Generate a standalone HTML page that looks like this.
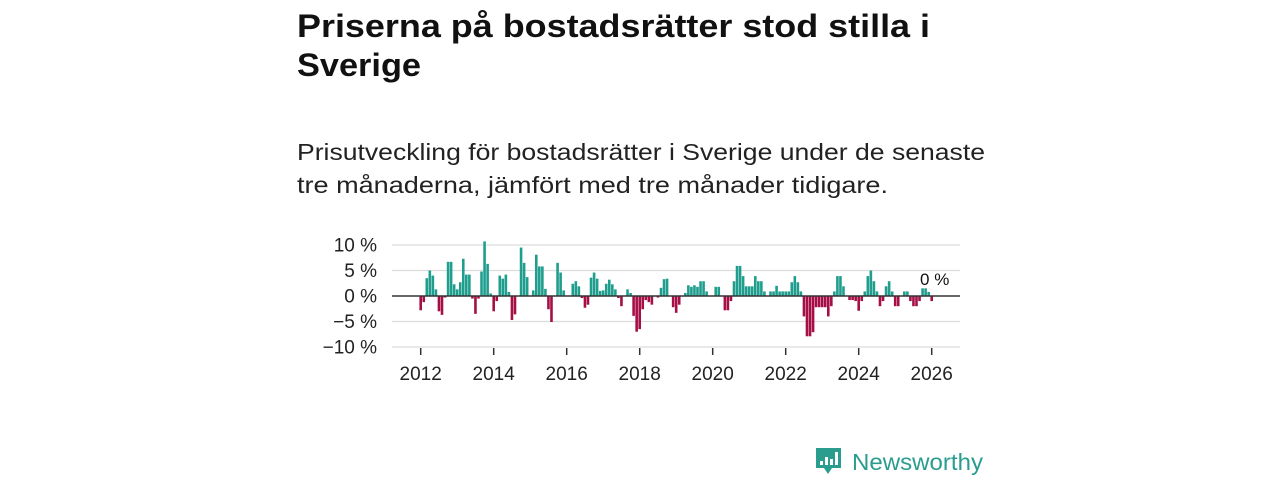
<!DOCTYPE html>
<html><head><meta charset="utf-8"><style>
html,body{margin:0;padding:0;background:#fff;}
svg{display:block;font-family:"Liberation Sans","DejaVu Sans",sans-serif;}
</style></head><body>
<svg id="chart" width="1280" height="480" viewBox="0 0 1280 480">
<text x="297" y="37" font-size="32" font-weight="bold" fill="#111" textLength="633" lengthAdjust="spacingAndGlyphs">Priserna på bostadsrätter stod stilla i</text>
<text x="297" y="76" font-size="32" font-weight="bold" fill="#111" textLength="124" lengthAdjust="spacingAndGlyphs">Sverige</text>
<text x="297" y="160" font-size="23" fill="#222" textLength="688" lengthAdjust="spacingAndGlyphs">Prisutveckling för bostadsrätter i Sverige under de senaste</text>
<text x="297" y="193" font-size="23" fill="#222" textLength="591" lengthAdjust="spacingAndGlyphs">tre månaderna, jämfört med tre månader tidigare.</text>
<g id="grid"></g><g id="bars"></g><g id="axes"></g>
<g>
<path d="M816 448 h25 v20 h-9 l-4 6 l-4 -6 h-8 z" fill="#2a9d8f"/>
<rect x="820" y="461" width="3" height="4" fill="#fff"/><rect x="825" y="457" width="3" height="8" fill="#fff"/><rect x="830" y="459" width="3" height="6" fill="#fff"/><rect x="835" y="452" width="3" height="13" fill="#fff"/>
<text x="852" y="470" font-size="23" fill="#2a9d8f" textLength="131" lengthAdjust="spacingAndGlyphs">Newsworthy</text>
</g>
</svg>
<script>
const startYear = 2012;
const values = [-2.8,-1.2,3.5,5.0,4.0,1.3,-3.0,-3.7,-0.3,6.7,6.7,2.3,
1.3,2.7,7.3,4.2,4.2,-0.5,-3.5,-0.5,4.8,10.7,6.3,0.5,
-3.0,-1.0,4.0,3.4,4.2,0.8,-4.7,-3.6,0,9.5,6.5,3.7,
0,1.1,8.1,5.8,5.8,1.4,-2.6,-5.1,0,6.5,4.6,1.1,
0,0,2.4,2.9,1.9,-0.4,-2.3,-1.7,3.6,4.6,3.4,1.0,
1.1,2.4,3.2,2.3,1.3,-0.4,-2.0,0,1.3,0.6,-3.9,-7.0,
-6.5,-2.6,-0.8,-1.2,-1.7,0,-0.3,1.6,3.3,3.4,0,-2.2,
-3.3,-1.7,0,0.6,2.1,1.8,2.1,1.8,2.9,2.9,0.9,0,
0,1.8,1.8,0,-2.8,-2.8,-1.0,2.9,5.9,5.9,3.9,1.9,
1.9,1.9,3.9,2.9,2.9,0.9,0,0.9,0.9,2.0,0.9,0.9,
0.9,0.9,2.7,3.9,2.7,0.9,-4.0,-7.9,-7.9,-7.1,-2.2,-2.2,
-2.2,-2.2,-4.0,-2.0,0.9,3.9,3.9,1.9,0,-0.8,-0.8,-1.0,
-2.9,-1.0,0.9,3.9,5.0,2.9,0.9,-2.0,-1.0,1.9,2.9,0.9,
-2.0,-2.0,0,0.9,0.9,-1.0,-2.0,-2.0,-1.0,1.5,1.5,0.8,
-1.0];
const yTicks = [10,5,0,-5,-10];
const yTickLabels = ["10 %","5 %","0 %","−5 %","−10 %"];
const xTicks = [2012,2014,2016,2018,2020,2022,2024,2026];
const lastLabel = "0 %";

const NS="http://www.w3.org/2000/svg";
const x0=420.7, pxYear=36.5, plotL=392, plotR=960;
const xScale = m => x0 + m*pxYear/12;
const yScale = v => 296 - v*5.1;
function mk(tag,attrs,parent){const e=document.createElementNS(NS,tag);for(const k in attrs)e.setAttribute(k,attrs[k]);parent.appendChild(e);return e;}
const grid=document.getElementById('grid'), bars=document.getElementById('bars'), axes=document.getElementById('axes');
yTicks.forEach((t,i)=>{
  if(t!==0){const l=mk('line',{x1:plotL,x2:plotR,y1:yScale(t),y2:yScale(t),stroke:'#dcdcdc','stroke-width':1.3},grid);
  
  }
  const tx=mk('text',{x:377,y:yScale(t)+6.5,'font-size':19,'text-anchor':'end',fill:'#222'},axes);
  tx.textContent=yTickLabels[i];
  
  
});
values.forEach((v,i)=>{
  const cx=xScale(i), y=yScale(Math.max(v,0)), h=Math.abs(yScale(v)-yScale(0));
  const r=mk('rect',{x:cx-1.3,y:y,width:2.6,height:Math.max(h,0),fill:v>=0?'#1f9e8e':'#a50f45'},bars);
  
  
});
const zl=mk('line',{x1:plotL,x2:plotR,y1:yScale(0),y2:yScale(0),stroke:'#333','stroke-width':1.6},axes);


xTicks.forEach(yr=>{
  const x=xScale((yr-startYear)*12);
  const t=mk('line',{x1:x,x2:x,y1:348,y2:355,stroke:'#333','stroke-width':1.5},axes);
  
  
  const tx=mk('text',{x:x,y:380,'font-size':19,'text-anchor':'middle',fill:'#222'},axes);
  tx.textContent=yr;
  
  
});
const ll=mk('text',{x:xScale(values.length-1)+3,y:285,'font-size':17,'text-anchor':'middle',fill:'#111'},axes);
ll.textContent=lastLabel;


</script>
</body></html>
